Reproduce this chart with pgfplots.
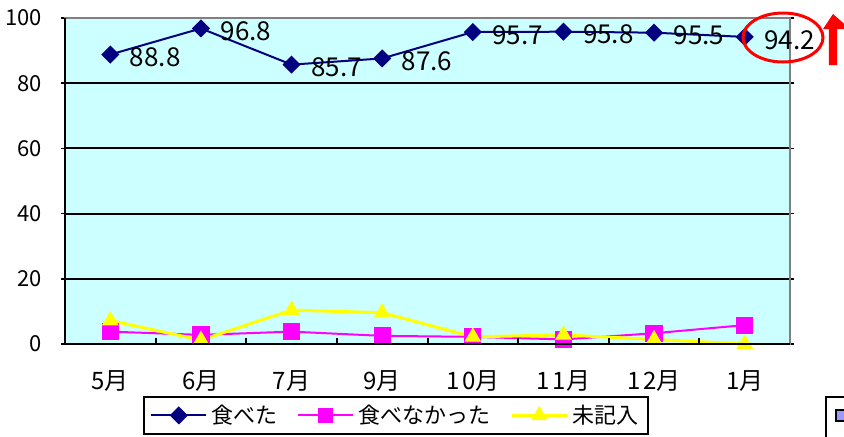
\documentclass[border=0pt]{standalone}
\usepackage{pgfplots}
\pgfplotsset{compat=1.18}
\usepackage{fontspec}
\setmainfont{Noto Sans CJK JP}
\definecolor{bgc}{HTML}{CCFFFF}
\definecolor{navyc}{HTML}{000080}
\definecolor{magc}{HTML}{FF00FF}
\definecolor{yelc}{HTML}{FFFF00}
\definecolor{lavc}{HTML}{9999FF}
\begin{document}
\begin{tikzpicture}
\useasboundingbox (0,0) rectangle (422pt,218pt);
\begin{axis}[
  at={(32.5pt,46pt)}, anchor=south west,
  scale only axis, width=362.5pt, height=163pt,
  xmin=-0.5, xmax=7.5, ymin=0, ymax=100,
  xtick={0,...,7},
  xticklabels={5月,6月,7月,9月,1\kern1.5pt 0月,1\kern1.5pt 1月,1\kern1.5pt 2月,1月},
  x tick style={draw=none},
  ytick={0,20,...,100},
  tick align=outside, major tick length=2pt,
  y tick style={black, line width=0.8pt},
  /pgf/number format/assume math mode=true,
  yticklabel style={font=\fontsize{11}{12}\selectfont, xshift=-6pt},
  xticklabel style={font=\fontsize{12}{13}\selectfont, yshift=-8pt},
  ymajorgrids, major grid style={black, line width=1pt},
  axis background/.style={fill=bgc},
  axis line style={gray, line width=1pt},
  legend columns=3,
  legend style={at={(0.457,-0.219)}, anchor=center, draw=black, line width=1pt,
    font=\fontsize{11}{13}\selectfont, inner xsep=3pt, inner ysep=2pt,
    /tikz/every even column/.append style={column sep=8pt}},
  legend image code/.code={\draw[mark repeat=2,mark phase=2,#1] plot coordinates {(0pt,0pt)(13.75pt,0pt)(27.5pt,0pt)};},
]
\addplot[color=magc, line width=1pt, mark=square*, mark size=3.8pt, mark options={fill=magc, draw=magc}, forget plot]
  coordinates {(0,3.8)(1,2.8)(2,3.8)(3,2.5)(4,2.2)(5,1.4)(6,3.3)(7,5.8)};
\addplot[color=navyc, line width=1pt, mark=square*, mark size=2.7pt, mark options={fill=navyc, rotate=45},
  nodes near coords={\pgfmathprintnumber[fixed,fixed zerofill,precision=1]{\pgfplotspointmeta}},
  every node near coord/.append style={anchor=west, xshift=6pt, yshift=-1.5pt, text=black, font=\fontsize{13}{14}\selectfont}]
  coordinates {(0,88.8)(1,96.8)(2,85.7)(3,87.6)(4,95.7)(5,95.8)(6,95.5)(7,94.2)};
\addlegendentry{食べた}
\addlegendimage{color=magc, line width=1pt, mark=square*, mark size=3.3pt, mark options={fill=magc, draw=magc}}
\addlegendentry{食べなかった}
\addplot[color=yelc, line width=1.5pt, mark=triangle*, mark size=4.3pt, mark options={fill=yelc, draw=yelc, line width=0.5pt}]
  coordinates {(0,7.2)(1,1.2)(2,10.4)(3,9.6)(4,2.2)(5,2.8)(6,1.4)(7,0.0)};
\addlegendentry{未記入}
\end{axis}
% black left and bottom axis lines
\draw[black, line width=1pt] (32.5pt,209pt) -- (32.5pt,46pt) -- (395pt,46pt);
% category boundary ticks (inside)
\foreach \k in {1,...,7} {
  \draw[black, line width=1pt] ({32.5pt+45.3125pt*\k},46pt) -- ++(0,3pt);
}
% red ellipse around last label
\draw[red, line width=1.5pt] (391.5pt,199.25pt) ellipse [x radius=20pt, y radius=12.25pt];
% red up arrow
\fill[red] (416.5pt,211pt) -- (425pt,203.5pt) -- (418.6pt,203.5pt) -- (418.6pt,185.5pt) -- (414.4pt,185.5pt) -- (414.4pt,203.5pt) -- (411.5pt,203.5pt) -- cycle;
% partial second legend at bottom right
\draw[black, line width=1pt] (430pt,19.5pt) -- (413pt,19.5pt) -- (413pt,-5pt);
\draw[black, line width=1pt, fill=lavc] (418pt,13pt) rectangle (426pt,7.5pt);
\end{tikzpicture}
\end{document}
